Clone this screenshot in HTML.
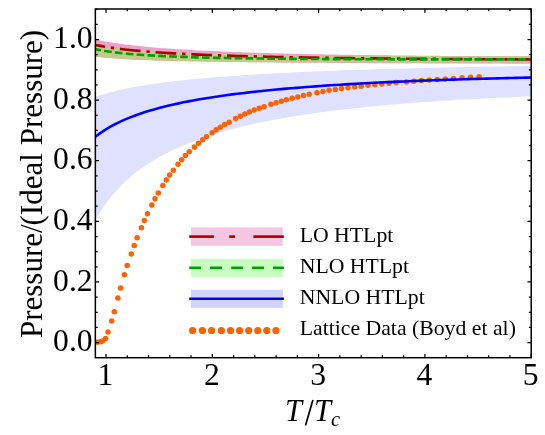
<!DOCTYPE html>
<html><head><meta charset="utf-8"><title>Pressure plot</title>
<style>html,body{margin:0;padding:0;background:#fff;}body{width:545px;height:435px;position:relative;overflow:hidden;font-family:"Liberation Serif",serif;}</style></head>
<body>
<svg width="545" height="435" viewBox="0 0 545 435" style="position:absolute;left:0;top:0;will-change:transform">
<rect width="545" height="435" fill="#fff"/>
<defs><clipPath id="cp"><rect x="95.35" y="9.0" width="435.85" height="348.7"/></clipPath></defs>
<g clip-path="url(#cp)">
<path d="M95.35,96.78 L100.25,95.19 L105.14,93.73 L110.04,92.39 L114.94,91.16 L119.84,90.02 L124.73,88.96 L129.63,87.98 L134.53,87.05 L139.42,86.19 L144.32,85.38 L149.22,84.61 L154.12,83.89 L159.01,83.20 L163.91,82.55 L168.81,81.93 L173.71,81.34 L178.60,80.78 L183.50,80.25 L188.40,79.73 L193.29,79.25 L198.19,78.78 L203.09,78.33 L207.99,77.90 L212.88,77.48 L217.78,77.08 L222.68,76.70 L227.57,76.33 L232.47,75.97 L237.37,75.63 L242.27,75.30 L247.16,74.98 L252.06,74.67 L256.96,74.37 L261.85,74.08 L266.75,73.80 L271.65,73.53 L276.55,73.26 L281.44,73.01 L286.34,72.76 L291.24,72.52 L296.13,72.29 L301.03,72.06 L305.93,71.84 L310.83,71.63 L315.72,71.42 L320.62,71.22 L325.52,71.03 L330.42,70.84 L335.31,70.65 L340.21,70.47 L345.11,70.30 L350.00,70.12 L354.90,69.96 L359.80,69.80 L364.70,69.64 L369.59,69.48 L374.49,69.33 L379.39,69.19 L384.28,69.04 L389.18,68.90 L394.08,68.77 L398.98,68.64 L403.87,68.51 L408.77,68.38 L413.67,68.26 L418.56,68.14 L423.46,68.02 L428.36,67.91 L433.26,67.79 L438.15,67.68 L443.05,67.58 L447.95,67.47 L452.84,67.37 L457.74,67.27 L462.64,67.17 L467.54,67.08 L472.43,66.99 L477.33,66.89 L482.23,66.81 L487.13,66.72 L492.02,66.63 L496.92,66.55 L501.82,66.47 L506.71,66.39 L511.61,66.31 L516.51,66.24 L521.41,66.16 L526.30,66.09 L531.20,66.02 L531.20,96.41 L526.30,96.59 L521.41,96.78 L516.51,96.98 L511.61,97.19 L506.71,97.40 L501.82,97.61 L496.92,97.83 L492.02,98.06 L487.13,98.30 L482.23,98.54 L477.33,98.79 L472.43,99.05 L467.54,99.31 L462.64,99.59 L457.74,99.87 L452.84,100.16 L447.95,100.46 L443.05,100.76 L438.15,101.08 L433.26,101.40 L428.36,101.74 L423.46,102.08 L418.56,102.44 L413.67,102.80 L408.77,103.18 L403.87,103.57 L398.98,103.97 L394.08,104.38 L389.18,104.80 L384.28,105.24 L379.39,105.69 L374.49,106.15 L369.59,106.63 L364.70,107.12 L359.80,107.63 L354.90,108.16 L350.00,108.70 L345.11,109.25 L340.21,109.83 L335.31,110.42 L330.42,111.04 L325.52,111.67 L320.62,112.33 L315.72,113.00 L310.83,113.70 L305.93,114.43 L301.03,115.18 L296.13,115.95 L291.24,116.75 L286.34,117.58 L281.44,118.44 L276.55,119.33 L271.65,120.26 L266.75,121.22 L261.85,122.21 L256.96,123.25 L252.06,124.32 L247.16,125.44 L242.27,126.60 L237.37,127.82 L232.47,129.08 L227.57,130.39 L222.68,131.77 L217.78,133.20 L212.88,134.70 L207.99,136.27 L203.09,137.92 L198.19,139.64 L193.29,141.45 L188.40,143.36 L183.50,145.37 L178.60,147.48 L173.71,149.72 L168.81,152.08 L163.91,154.59 L159.01,157.26 L154.12,160.09 L149.22,163.12 L144.32,166.37 L139.42,169.85 L134.53,173.61 L129.63,177.67 L124.73,182.08 L119.84,186.90 L114.94,192.20 L110.04,198.06 L105.14,204.59 L100.25,211.95 L95.35,220.33 Z" fill="#e0e0ff"/>
<path d="M95.35,39.52 L100.25,40.55 L105.14,41.47 L110.04,42.31 L114.94,43.08 L119.84,43.78 L124.73,44.43 L129.63,45.03 L134.53,45.59 L139.42,46.11 L144.32,46.60 L149.22,47.05 L154.12,47.48 L159.01,47.88 L163.91,48.26 L168.81,48.61 L173.71,48.95 L178.60,49.27 L183.50,49.58 L188.40,49.87 L193.29,50.14 L198.19,50.40 L203.09,50.65 L207.99,50.89 L212.88,51.11 L217.78,51.33 L222.68,51.54 L227.57,51.74 L232.47,51.93 L237.37,52.11 L242.27,52.29 L247.16,52.45 L252.06,52.61 L256.96,52.77 L261.85,52.92 L266.75,53.06 L271.65,53.20 L276.55,53.33 L281.44,53.46 L286.34,53.58 L291.24,53.70 L296.13,53.81 L301.03,53.92 L305.93,54.03 L310.83,54.13 L315.72,54.23 L320.62,54.33 L325.52,54.42 L330.42,54.51 L335.31,54.59 L340.21,54.67 L345.11,54.75 L350.00,54.83 L354.90,54.91 L359.80,54.98 L364.70,55.05 L369.59,55.11 L374.49,55.18 L379.39,55.24 L384.28,55.30 L389.18,55.36 L394.08,55.41 L398.98,55.47 L403.87,55.52 L408.77,55.57 L413.67,55.62 L418.56,55.67 L423.46,55.71 L428.36,55.76 L433.26,55.80 L438.15,55.84 L443.05,55.88 L447.95,55.92 L452.84,55.95 L457.74,55.99 L462.64,56.02 L467.54,56.05 L472.43,56.08 L477.33,56.11 L482.23,56.14 L487.13,56.17 L492.02,56.20 L496.92,56.22 L501.82,56.25 L506.71,56.27 L511.61,56.29 L516.51,56.32 L521.41,56.34 L526.30,56.36 L531.20,56.38 L531.20,63.67 L526.30,63.66 L521.41,63.65 L516.51,63.65 L511.61,63.64 L506.71,63.63 L501.82,63.62 L496.92,63.60 L492.02,63.59 L487.13,63.58 L482.23,63.57 L477.33,63.56 L472.43,63.55 L467.54,63.53 L462.64,63.52 L457.74,63.50 L452.84,63.49 L447.95,63.47 L443.05,63.46 L438.15,63.44 L433.26,63.42 L428.36,63.41 L423.46,63.39 L418.56,63.37 L413.67,63.35 L408.77,63.33 L403.87,63.31 L398.98,63.29 L394.08,63.26 L389.18,63.24 L384.28,63.22 L379.39,63.19 L374.49,63.17 L369.59,63.14 L364.70,63.11 L359.80,63.09 L354.90,63.06 L350.00,63.03 L345.11,62.99 L340.21,62.96 L335.31,62.93 L330.42,62.89 L325.52,62.86 L320.62,62.82 L315.72,62.78 L310.83,62.74 L305.93,62.70 L301.03,62.66 L296.13,62.61 L291.24,62.57 L286.34,62.52 L281.44,62.47 L276.55,62.42 L271.65,62.37 L266.75,62.31 L261.85,62.25 L256.96,62.19 L252.06,62.13 L247.16,62.07 L242.27,62.00 L237.37,61.93 L232.47,61.85 L227.57,61.78 L222.68,61.70 L217.78,61.61 L212.88,61.53 L207.99,61.43 L203.09,61.34 L198.19,61.24 L193.29,61.13 L188.40,61.02 L183.50,60.90 L178.60,60.78 L173.71,60.65 L168.81,60.52 L163.91,60.37 L159.01,60.22 L154.12,60.05 L149.22,59.88 L144.32,59.69 L139.42,59.50 L134.53,59.28 L129.63,59.05 L124.73,58.81 L119.84,58.54 L114.94,58.25 L110.04,57.92 L105.14,57.57 L100.25,57.18 L95.35,56.74 Z" fill="#f0a0c8"/>
<path d="M95.35,44.70 L100.25,45.75 L105.14,46.64 L110.04,47.40 L114.94,48.07 L119.84,48.66 L124.73,49.18 L129.63,49.65 L134.53,50.08 L139.42,50.46 L144.32,50.81 L149.22,51.13 L154.12,51.43 L159.01,51.70 L163.91,51.95 L168.81,52.19 L173.71,52.40 L178.60,52.61 L183.50,52.80 L188.40,52.97 L193.29,53.14 L198.19,53.30 L203.09,53.45 L207.99,53.59 L212.88,53.72 L217.78,53.84 L222.68,53.96 L227.57,54.07 L232.47,54.18 L237.37,54.28 L242.27,54.38 L247.16,54.47 L252.06,54.55 L256.96,54.63 L261.85,54.71 L266.75,54.79 L271.65,54.86 L276.55,54.93 L281.44,54.99 L286.34,55.05 L291.24,55.11 L296.13,55.17 L301.03,55.22 L305.93,55.28 L310.83,55.33 L315.72,55.37 L320.62,55.42 L325.52,55.46 L330.42,55.51 L335.31,55.55 L340.21,55.58 L345.11,55.62 L350.00,55.66 L354.90,55.69 L359.80,55.72 L364.70,55.75 L369.59,55.78 L374.49,55.81 L379.39,55.84 L384.28,55.86 L389.18,55.89 L394.08,55.91 L398.98,55.94 L403.87,55.96 L408.77,55.98 L413.67,56.00 L418.56,56.02 L423.46,56.04 L428.36,56.05 L433.26,56.07 L438.15,56.09 L443.05,56.10 L447.95,56.12 L452.84,56.13 L457.74,56.14 L462.64,56.16 L467.54,56.17 L472.43,56.18 L477.33,56.19 L482.23,56.20 L487.13,56.21 L492.02,56.22 L496.92,56.23 L501.82,56.24 L506.71,56.25 L511.61,56.25 L516.51,56.26 L521.41,56.27 L526.30,56.27 L531.20,56.28 L531.20,62.14 L526.30,62.16 L521.41,62.18 L516.51,62.20 L511.61,62.21 L506.71,62.23 L501.82,62.25 L496.92,62.26 L492.02,62.28 L487.13,62.29 L482.23,62.31 L477.33,62.32 L472.43,62.34 L467.54,62.35 L462.64,62.37 L457.74,62.38 L452.84,62.39 L447.95,62.41 L443.05,62.42 L438.15,62.43 L433.26,62.44 L428.36,62.45 L423.46,62.46 L418.56,62.47 L413.67,62.48 L408.77,62.49 L403.87,62.49 L398.98,62.50 L394.08,62.51 L389.18,62.51 L384.28,62.52 L379.39,62.52 L374.49,62.52 L369.59,62.53 L364.70,62.53 L359.80,62.53 L354.90,62.53 L350.00,62.53 L345.11,62.52 L340.21,62.52 L335.31,62.52 L330.42,62.51 L325.52,62.50 L320.62,62.49 L315.72,62.49 L310.83,62.47 L305.93,62.46 L301.03,62.45 L296.13,62.43 L291.24,62.41 L286.34,62.39 L281.44,62.37 L276.55,62.35 L271.65,62.32 L266.75,62.30 L261.85,62.27 L256.96,62.23 L252.06,62.20 L247.16,62.16 L242.27,62.12 L237.37,62.07 L232.47,62.02 L227.57,61.97 L222.68,61.92 L217.78,61.86 L212.88,61.79 L207.99,61.72 L203.09,61.65 L198.19,61.57 L193.29,61.48 L188.40,61.39 L183.50,61.28 L178.60,61.18 L173.71,61.06 L168.81,60.93 L163.91,60.79 L159.01,60.64 L154.12,60.48 L149.22,60.31 L144.32,60.11 L139.42,59.90 L134.53,59.67 L129.63,59.42 L124.73,59.14 L119.84,58.82 L114.94,58.47 L110.04,58.08 L105.14,57.63 L100.25,57.12 L95.35,56.53 Z" fill="#c2c98a"/>
<circle cx="97.4" cy="342.15" r="2.75" fill="#ff6200"/>
<circle cx="100.1" cy="341.84999999999997" r="2.75" fill="#ff6200"/>
<circle cx="102.5" cy="340.95" r="2.75" fill="#ff6200"/>
<circle cx="105.6" cy="338.54999999999995" r="2.75" fill="#ff6200"/>
<circle cx="108.0" cy="332.04999999999995" r="2.75" fill="#ff6200"/>
<circle cx="111.7" cy="321.04999999999995" r="2.75" fill="#ff6200"/>
<circle cx="114.3" cy="311.65" r="2.75" fill="#ff6200"/>
<circle cx="117.9" cy="298.04999999999995" r="2.75" fill="#ff6200"/>
<circle cx="120.7" cy="287.95" r="2.75" fill="#ff6200"/>
<circle cx="124.4" cy="274.75" r="2.75" fill="#ff6200"/>
<circle cx="127.2" cy="265.54999999999995" r="2.75" fill="#ff6200"/>
<circle cx="131.25" cy="253.95000000000002" r="2.75" fill="#ff6200"/>
<circle cx="134.2" cy="245.45000000000002" r="2.75" fill="#ff6200"/>
<circle cx="137.1" cy="237.75" r="2.75" fill="#ff6200"/>
<circle cx="141.4" cy="227.85" r="2.75" fill="#ff6200"/>
<circle cx="144.3" cy="220.45000000000002" r="2.75" fill="#ff6200"/>
<circle cx="147.4" cy="213.65" r="2.75" fill="#ff6200"/>
<circle cx="151.8" cy="205.05" r="2.75" fill="#ff6200"/>
<circle cx="155.0" cy="198.75" r="2.75" fill="#ff6200"/>
<circle cx="158.3" cy="193.05" r="2.75" fill="#ff6200"/>
<circle cx="162.8" cy="185.45000000000002" r="2.75" fill="#ff6200"/>
<circle cx="166.3" cy="180.05" r="2.75" fill="#ff6200"/>
<circle cx="169.6" cy="174.95000000000002" r="2.75" fill="#ff6200"/>
<circle cx="173.3" cy="170.15" r="2.75" fill="#ff6200"/>
<circle cx="178.05" cy="164.25" r="2.75" fill="#ff6200"/>
<circle cx="181.7" cy="159.65" r="2.75" fill="#ff6200"/>
<circle cx="185.4" cy="155.45000000000002" r="2.75" fill="#ff6200"/>
<circle cx="189.3" cy="151.75" r="2.75" fill="#ff6200"/>
<circle cx="194.4" cy="146.95000000000002" r="2.75" fill="#ff6200"/>
<circle cx="198.5" cy="143.35" r="2.75" fill="#ff6200"/>
<circle cx="202.7" cy="139.85" r="2.75" fill="#ff6200"/>
<circle cx="206.5" cy="136.85" r="2.75" fill="#ff6200"/>
<circle cx="212.1" cy="132.65" r="2.75" fill="#ff6200"/>
<circle cx="216.1" cy="129.75" r="2.75" fill="#ff6200"/>
<circle cx="220.3" cy="127.15" r="2.75" fill="#ff6200"/>
<circle cx="224.7" cy="124.55000000000001" r="2.75" fill="#ff6200"/>
<circle cx="229.2" cy="122.15" r="2.75" fill="#ff6200"/>
<circle cx="235.6" cy="118.45" r="2.75" fill="#ff6200"/>
<circle cx="240.2" cy="116.15" r="2.75" fill="#ff6200"/>
<circle cx="244.8" cy="113.9" r="2.75" fill="#ff6200"/>
<circle cx="249.4" cy="112.05000000000001" r="2.75" fill="#ff6200"/>
<circle cx="254.2" cy="110.05000000000001" r="2.75" fill="#ff6200"/>
<circle cx="259.2" cy="108.35000000000001" r="2.75" fill="#ff6200"/>
<circle cx="264.1" cy="106.75" r="2.75" fill="#ff6200"/>
<circle cx="270.9" cy="104.15" r="2.75" fill="#ff6200"/>
<circle cx="276.1" cy="102.65" r="2.75" fill="#ff6200"/>
<circle cx="281.4" cy="101.25" r="2.75" fill="#ff6200"/>
<circle cx="286.5" cy="99.75" r="2.75" fill="#ff6200"/>
<circle cx="292.2" cy="98.25" r="2.75" fill="#ff6200"/>
<circle cx="297.8" cy="96.95" r="2.75" fill="#ff6200"/>
<circle cx="303.5" cy="95.55000000000001" r="2.75" fill="#ff6200"/>
<circle cx="309.2" cy="94.25" r="2.75" fill="#ff6200"/>
<circle cx="317.0" cy="92.65" r="2.75" fill="#ff6200"/>
<circle cx="323.0" cy="91.45" r="2.75" fill="#ff6200"/>
<circle cx="329.0" cy="90.35000000000001" r="2.75" fill="#ff6200"/>
<circle cx="335.3" cy="89.45" r="2.75" fill="#ff6200"/>
<circle cx="341.5" cy="88.45" r="2.75" fill="#ff6200"/>
<circle cx="348.0" cy="87.75" r="2.75" fill="#ff6200"/>
<circle cx="354.6" cy="86.85000000000001" r="2.75" fill="#ff6200"/>
<circle cx="361.2" cy="86.15" r="2.75" fill="#ff6200"/>
<circle cx="368.0" cy="85.35000000000001" r="2.75" fill="#ff6200"/>
<circle cx="374.8" cy="84.65" r="2.75" fill="#ff6200"/>
<circle cx="381.8" cy="83.9" r="2.75" fill="#ff6200"/>
<circle cx="389.0" cy="83.15" r="2.75" fill="#ff6200"/>
<circle cx="396.1" cy="82.45" r="2.75" fill="#ff6200"/>
<circle cx="406.3" cy="82.0" r="2.75" fill="#ff6200"/>
<circle cx="413.8" cy="81.3" r="2.75" fill="#ff6200"/>
<circle cx="421.5" cy="80.6" r="2.75" fill="#ff6200"/>
<circle cx="429.3" cy="80.0" r="2.75" fill="#ff6200"/>
<circle cx="437.2" cy="79.5" r="2.75" fill="#ff6200"/>
<circle cx="445.3" cy="78.9" r="2.75" fill="#ff6200"/>
<circle cx="453.5" cy="78.4" r="2.75" fill="#ff6200"/>
<circle cx="462.0" cy="77.8" r="2.75" fill="#ff6200"/>
<circle cx="470.5" cy="77.3" r="2.75" fill="#ff6200"/>
<circle cx="479.1" cy="76.7" r="2.75" fill="#ff6200"/>
<path d="M95.35,44.94 L100.25,45.92 L105.14,46.79 L110.04,47.56 L114.94,48.26 L119.84,48.90 L124.73,49.47 L129.63,50.00 L134.53,50.49 L139.42,50.94 L144.32,51.36 L149.22,51.75 L154.12,52.12 L159.01,52.46 L163.91,52.78 L168.81,53.08 L173.71,53.36 L178.60,53.63 L183.50,53.88 L188.40,54.12 L193.29,54.35 L198.19,54.57 L203.09,54.77 L207.99,54.97 L212.88,55.16 L217.78,55.34 L222.68,55.51 L227.57,55.67 L232.47,55.82 L237.37,55.97 L242.27,56.11 L247.16,56.25 L252.06,56.38 L256.96,56.51 L261.85,56.63 L266.75,56.74 L271.65,56.85 L276.55,56.96 L281.44,57.06 L286.34,57.16 L291.24,57.26 L296.13,57.35 L301.03,57.44 L305.93,57.52 L310.83,57.60 L315.72,57.68 L320.62,57.76 L325.52,57.83 L330.42,57.90 L335.31,57.97 L340.21,58.04 L345.11,58.10 L350.00,58.16 L354.90,58.22 L359.80,58.28 L364.70,58.33 L369.59,58.39 L374.49,58.44 L379.39,58.49 L384.28,58.53 L389.18,58.58 L394.08,58.62 L398.98,58.67 L403.87,58.71 L408.77,58.75 L413.67,58.79 L418.56,58.83 L423.46,58.86 L428.36,58.90 L433.26,58.93 L438.15,58.96 L443.05,58.99 L447.95,59.02 L452.84,59.05 L457.74,59.08 L462.64,59.11 L467.54,59.13 L472.43,59.16 L477.33,59.18 L482.23,59.20 L487.13,59.23 L492.02,59.25 L496.92,59.27 L501.82,59.29 L506.71,59.31 L511.61,59.32 L516.51,59.34 L521.41,59.36 L526.30,59.37 L531.20,59.39" fill="none" stroke="#ab0000" stroke-width="2.65" stroke-dasharray="20.75 5.9 3.3 5.85" stroke-dashoffset="10.9"/>
<path d="M95.35,49.17 L100.25,50.19 L105.14,51.05 L110.04,51.79 L114.94,52.43 L119.84,53.00 L124.73,53.50 L129.63,53.95 L134.53,54.35 L139.42,54.72 L144.32,55.05 L149.22,55.35 L154.12,55.63 L159.01,55.88 L163.91,56.11 L168.81,56.33 L173.71,56.53 L178.60,56.72 L183.50,56.89 L188.40,57.05 L193.29,57.20 L198.19,57.34 L203.09,57.47 L207.99,57.59 L212.88,57.70 L217.78,57.81 L222.68,57.91 L227.57,58.01 L232.47,58.09 L237.37,58.18 L242.27,58.26 L247.16,58.33 L252.06,58.40 L256.96,58.47 L261.85,58.53 L266.75,58.59 L271.65,58.64 L276.55,58.69 L281.44,58.74 L286.34,58.79 L291.24,58.83 L296.13,58.87 L301.03,58.91 L305.93,58.94 L310.83,58.98 L315.72,59.01 L320.62,59.04 L325.52,59.07 L330.42,59.09 L335.31,59.12 L340.21,59.14 L345.11,59.16 L350.00,59.18 L354.90,59.20 L359.80,59.22 L364.70,59.23 L369.59,59.25 L374.49,59.26 L379.39,59.27 L384.28,59.29 L389.18,59.30 L394.08,59.30 L398.98,59.31 L403.87,59.32 L408.77,59.33 L413.67,59.33 L418.56,59.34 L423.46,59.34 L428.36,59.34 L433.26,59.35 L438.15,59.35 L443.05,59.35 L447.95,59.35 L452.84,59.35 L457.74,59.35 L462.64,59.35 L467.54,59.35 L472.43,59.34 L477.33,59.34 L482.23,59.34 L487.13,59.33 L492.02,59.33 L496.92,59.32 L501.82,59.32 L506.71,59.31 L511.61,59.31 L516.51,59.30 L521.41,59.29 L526.30,59.28 L531.20,59.28" fill="none" stroke="#00a000" stroke-width="2.65" stroke-dasharray="7.67 3.23" stroke-dashoffset="1.95"/>
<path d="M95.35,136.77 L100.25,133.10 L105.14,129.83 L110.04,126.90 L114.94,124.26 L119.84,121.85 L124.73,119.64 L129.63,117.60 L134.53,115.72 L139.42,113.97 L144.32,112.34 L149.22,110.81 L154.12,109.38 L159.01,108.04 L163.91,106.77 L168.81,105.57 L173.71,104.44 L178.60,103.37 L183.50,102.35 L188.40,101.38 L193.29,100.46 L198.19,99.58 L203.09,98.74 L207.99,97.93 L212.88,97.17 L217.78,96.43 L222.68,95.73 L227.57,95.05 L232.47,94.40 L237.37,93.78 L242.27,93.17 L247.16,92.60 L252.06,92.04 L256.96,91.50 L261.85,90.99 L266.75,90.49 L271.65,90.01 L276.55,89.54 L281.44,89.09 L286.34,88.66 L291.24,88.24 L296.13,87.83 L301.03,87.44 L305.93,87.06 L310.83,86.69 L315.72,86.33 L320.62,85.98 L325.52,85.65 L330.42,85.32 L335.31,85.01 L340.21,84.70 L345.11,84.40 L350.00,84.11 L354.90,83.83 L359.80,83.56 L364.70,83.30 L369.59,83.04 L374.49,82.79 L379.39,82.55 L384.28,82.31 L389.18,82.08 L394.08,81.86 L398.98,81.64 L403.87,81.43 L408.77,81.22 L413.67,81.02 L418.56,80.83 L423.46,80.64 L428.36,80.45 L433.26,80.27 L438.15,80.10 L443.05,79.93 L447.95,79.76 L452.84,79.60 L457.74,79.44 L462.64,79.29 L467.54,79.14 L472.43,79.00 L477.33,78.86 L482.23,78.72 L487.13,78.58 L492.02,78.45 L496.92,78.33 L501.82,78.20 L506.71,78.08 L511.61,77.96 L516.51,77.85 L521.41,77.74 L526.30,77.63 L531.20,77.52" fill="none" stroke="#0000f8" stroke-width="2.6"/>
</g>
<rect x="190.9" y="227.45" width="91.90" height="18.30" fill="#f5c6e2"/>
<rect x="190.9" y="258.8" width="91.90" height="18.10" fill="#c8fcc0"/>
<rect x="190.9" y="289.7" width="91.90" height="18.20" fill="#d2d2fc"/>
<line x1="189.2" y1="236.6" x2="213.9" y2="236.6" stroke="#ab0000" stroke-width="2.65"/>
<line x1="229.3" y1="236.6" x2="235.1" y2="236.6" stroke="#ab0000" stroke-width="2.65"/>
<line x1="253.4" y1="236.6" x2="283.9" y2="236.6" stroke="#ab0000" stroke-width="2.65"/>
<line x1="189.2" y1="267.85" x2="201.0" y2="267.85" stroke="#00a000" stroke-width="2.65"/>
<line x1="210.0" y1="267.85" x2="222.0" y2="267.85" stroke="#00a000" stroke-width="2.65"/>
<line x1="231.2" y1="267.85" x2="242.9" y2="267.85" stroke="#00a000" stroke-width="2.65"/>
<line x1="252.0" y1="267.85" x2="264.0" y2="267.85" stroke="#00a000" stroke-width="2.65"/>
<line x1="273.0" y1="267.85" x2="283.9" y2="267.85" stroke="#00a000" stroke-width="2.65"/>
<line x1="189.2" y1="298.7" x2="283.9" y2="298.7" stroke="#0000f8" stroke-width="2.6"/>
<circle cx="192.6" cy="330.5" r="3.62" fill="#ff6200"/>
<circle cx="202.4" cy="330.5" r="3.62" fill="#ff6200"/>
<circle cx="211.55" cy="330.5" r="3.62" fill="#ff6200"/>
<circle cx="221.4" cy="330.5" r="3.62" fill="#ff6200"/>
<circle cx="230.55" cy="330.5" r="3.62" fill="#ff6200"/>
<circle cx="239.6" cy="330.5" r="3.62" fill="#ff6200"/>
<circle cx="248.7" cy="330.5" r="3.62" fill="#ff6200"/>
<circle cx="257.8" cy="330.5" r="3.62" fill="#ff6200"/>
<circle cx="266.8" cy="330.5" r="3.62" fill="#ff6200"/>
<circle cx="275.9" cy="330.5" r="3.62" fill="#ff6200"/>
<rect x="95.35" y="9.0" width="435.85" height="348.7" fill="none" stroke="#000" stroke-width="1.5"/>
<path d="M106.00,357.7 v-3.7 M106.00,9.0 v3.7 M127.26,357.7 v-2.35 M127.26,9.0 v2.35 M148.52,357.7 v-2.35 M148.52,9.0 v2.35 M169.78,357.7 v-2.35 M169.78,9.0 v2.35 M191.04,357.7 v-2.35 M191.04,9.0 v2.35 M212.30,357.7 v-3.7 M212.30,9.0 v3.7 M233.56,357.7 v-2.35 M233.56,9.0 v2.35 M254.82,357.7 v-2.35 M254.82,9.0 v2.35 M276.08,357.7 v-2.35 M276.08,9.0 v2.35 M297.34,357.7 v-2.35 M297.34,9.0 v2.35 M318.60,357.7 v-3.7 M318.60,9.0 v3.7 M339.86,357.7 v-2.35 M339.86,9.0 v2.35 M361.12,357.7 v-2.35 M361.12,9.0 v2.35 M382.38,357.7 v-2.35 M382.38,9.0 v2.35 M403.64,357.7 v-2.35 M403.64,9.0 v2.35 M424.90,357.7 v-3.7 M424.90,9.0 v3.7 M446.16,357.7 v-2.35 M446.16,9.0 v2.35 M467.42,357.7 v-2.35 M467.42,9.0 v2.35 M488.68,357.7 v-2.35 M488.68,9.0 v2.35 M509.94,357.7 v-2.35 M509.94,9.0 v2.35 M531.20,357.7 v-3.7 M531.20,9.0 v3.7 M95.35,342.60 h3.7 M531.2,342.60 h-3.7 M95.35,327.45 h2.35 M531.2,327.45 h-2.35 M95.35,312.29 h2.35 M531.2,312.29 h-2.35 M95.35,297.13 h2.35 M531.2,297.13 h-2.35 M95.35,281.98 h3.7 M531.2,281.98 h-3.7 M95.35,266.83 h2.35 M531.2,266.83 h-2.35 M95.35,251.67 h2.35 M531.2,251.67 h-2.35 M95.35,236.51 h2.35 M531.2,236.51 h-2.35 M95.35,221.36 h3.7 M531.2,221.36 h-3.7 M95.35,206.21 h2.35 M531.2,206.21 h-2.35 M95.35,191.05 h2.35 M531.2,191.05 h-2.35 M95.35,175.90 h2.35 M531.2,175.90 h-2.35 M95.35,160.74 h3.7 M531.2,160.74 h-3.7 M95.35,145.59 h2.35 M531.2,145.59 h-2.35 M95.35,130.43 h2.35 M531.2,130.43 h-2.35 M95.35,115.28 h2.35 M531.2,115.28 h-2.35 M95.35,100.12 h3.7 M531.2,100.12 h-3.7 M95.35,84.96 h2.35 M531.2,84.96 h-2.35 M95.35,69.81 h2.35 M531.2,69.81 h-2.35 M95.35,54.65 h2.35 M531.2,54.65 h-2.35 M95.35,39.50 h3.7 M531.2,39.50 h-3.7 M95.35,24.34 h2.35 M531.2,24.34 h-2.35 M95.35,9.19 h2.35 M531.2,9.19 h-2.35" stroke="#000" stroke-width="1.25" fill="none"/>
<g style="font-family:'Liberation Serif',serif" fill="#000">
<text x="92.6" y="351.20" font-size="31.6" text-anchor="end">0.0</text>
<text x="92.6" y="290.58" font-size="31.6" text-anchor="end">0.2</text>
<text x="92.6" y="229.96" font-size="31.6" text-anchor="end">0.4</text>
<text x="92.6" y="169.34" font-size="31.6" text-anchor="end">0.6</text>
<text x="92.6" y="108.72" font-size="31.6" text-anchor="end">0.8</text>
<text x="92.6" y="48.10" font-size="31.6" text-anchor="end">1.0</text>
<text x="105.50" y="384.6" font-size="31.6" text-anchor="middle">1</text>
<text x="211.80" y="384.6" font-size="31.6" text-anchor="middle">2</text>
<text x="318.10" y="384.6" font-size="31.6" text-anchor="middle">3</text>
<text x="424.40" y="384.6" font-size="31.6" text-anchor="middle">4</text>
<text x="530.70" y="384.6" font-size="31.6" text-anchor="middle">5</text>
<text transform="translate(42,338.1) rotate(-90)" font-size="31.05">Pressure/<tspan dx="-1.2">(</tspan>Ideal Pressure)</text>
<text x="284.9" y="420.6" font-size="30.5" font-style="italic">T</text>
<text x="314.0" y="420.6" font-size="30.5" font-style="italic">T</text>
<text x="331.0" y="425.6" font-size="20.5" font-style="italic">c</text>
<line x1="305.5" y1="425.5" x2="312.9" y2="400.0" stroke="#000" stroke-width="1.7"/>
<text x="299.7" y="241.8" font-size="21.75">LO HTLpt</text>
<text x="299.7" y="272.9" font-size="21.75">NLO HTLpt</text>
<text x="299.7" y="303.9" font-size="21.75">NNLO HTLpt</text>
<text x="299.7" y="334.9" font-size="21.75">Lattice Data (Boyd et al)</text>
</g>
</svg>
</body></html>
